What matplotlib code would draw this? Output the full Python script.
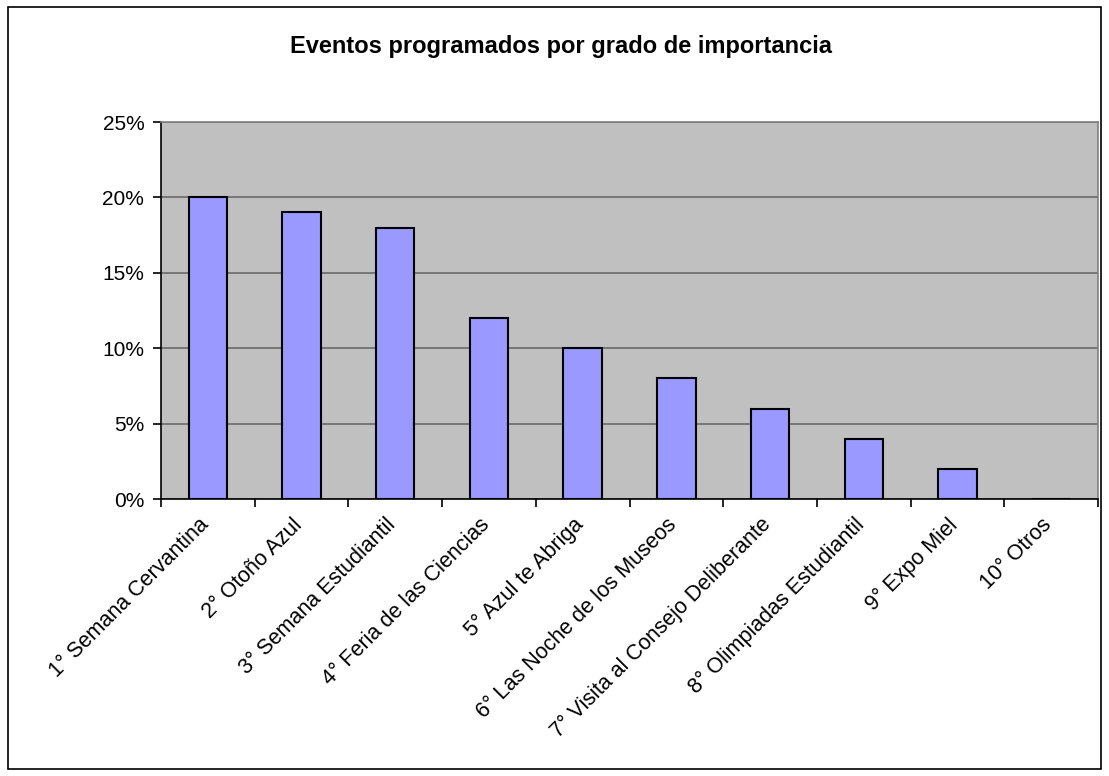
import matplotlib
matplotlib.use("Agg")
import matplotlib.pyplot as plt
from matplotlib.ticker import PercentFormatter, FixedLocator
from matplotlib.patches import Rectangle
from matplotlib.transforms import ScaledTranslation

plt.rcParams['font.family'] = ['Liberation Sans', 'DejaVu Sans']

eventos = ["1° Semana Cervantina", "2° Otoño Azul", "3° Semana Estudiantil",
           "4° Feria de las Ciencias", "5° Azul te Abriga", "6° Las Noche de los Museos",
           "7° Visita al Consejo Deliberante", "8° Olimpiadas Estudiantil",
           "9° Expo Miel", "10° Otros"]
porcentajes = [20, 19, 18, 12, 10, 8, 6, 4, 2, 0]
y_ticks = [0, 5, 10, 15, 20, 25]

fig = plt.figure(figsize=(11.09, 7.76), dpi=100)
fig.patches.append(Rectangle((8/1109, 1-769/776), 1093/1109, 762/776,
                             transform=fig.transFigure, fill=False,
                             edgecolor='black', linewidth=1.2))

ax = fig.add_axes([161/1109, 1-499/776, 937/1109, 377/776])
ax.set_facecolor('#C0C0C0')
x = range(len(eventos))
ax.bar(x, porcentajes, width=0.41, color='#9999FF', edgecolor='black',
       linewidth=1.5, zorder=3)

ax.set_xlim(-0.5, len(eventos) - 0.5)
ax.set_ylim(0, 25)
ax.set_yticks(y_ticks)
ax.yaxis.set_major_formatter(PercentFormatter(decimals=0))
ax.grid(axis='y', color='#6a6a6a', linewidth=1.2, zorder=1)

ax.set_xticks(list(x))
ax.set_xticklabels(eventos, rotation=45, ha='right', va='top',
                   rotation_mode='anchor', fontsize=15.5)
ax.tick_params(axis='x', which='major', length=0, pad=11)
shift = ScaledTranslation(-10/100, 0, fig.dpi_scale_trans)
for lbl in ax.get_xticklabels():
    lbl.set_transform(lbl.get_transform() + shift)
ax.xaxis.set_minor_locator(FixedLocator([i - 0.5 for i in range(len(eventos) + 1)]))
ax.tick_params(axis='x', which='minor', length=6, width=1.2, color='black')
ax.tick_params(axis='y', length=6, width=1.2, labelsize=15, pad=6)

for side in ['top', 'right']:
    ax.spines[side].set_color('#808080')
    ax.spines[side].set_linewidth(1.2)
for side in ['left', 'bottom']:
    ax.spines[side].set_color('black')
    ax.spines[side].set_linewidth(1.2)

fig.text(561/1109, 1-47/776, "Eventos programados por grado de importancia",
         ha='center', va='center', fontsize=17, fontweight='bold')

fig.savefig("out.png", dpi=100)
